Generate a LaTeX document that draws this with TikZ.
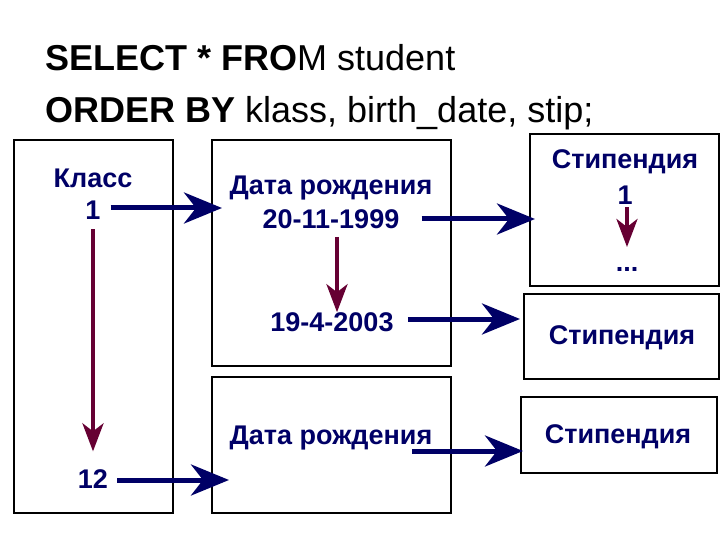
\documentclass[tikz,border=0pt]{standalone}
\usepackage{fontspec}
\setmainfont{Liberation Sans}
\usetikzlibrary{arrows.meta}
\definecolor{navy}{RGB}{0,0,102}
\definecolor{wine}{RGB}{102,0,51}
\begin{document}
\begin{tikzpicture}[x=1pt,y=-1pt,
  box/.style={draw=black,line width=2pt,inner sep=0pt},
  lbl/.style={font=\fontsize{27}{30}\selectfont\bfseries,text=navy,inner sep=0pt},
  title/.style={font=\fontsize{36}{40}\selectfont,anchor=base west,inner sep=0pt},
  barrow/.style={draw=navy,line width=5pt,-{Stealth[length=38pt 0,width=31pt 0,inset=12pt 0]}},
  rarrow/.style={draw=wine,line width=4pt,-{Stealth[length=28pt 0,width=21pt 0,inset=8pt 0]}}]
\useasboundingbox (0,0) rectangle (720,540);
% title
\node[title] (q1) at (45,71) {\textbf{SELECT * FRO}M student};
\node[title] (q2) at (45,123) {\textbf{ORDER BY} klass, birth\_date, stip;};
% boxes
\node[box,minimum width=159pt,minimum height=373pt] (kb) at (93.5,326.5) {};
\node[box,minimum width=239pt,minimum height=226pt] (db1) at (331.5,253) {};
\node[box,minimum width=239pt,minimum height=136pt] (db2) at (331.5,445) {};
\node[box,minimum width=189pt,minimum height=152pt] (sb1) at (624.5,210) {};
\node[box,minimum width=195pt,minimum height=85pt] (sb2) at (621.5,336.5) {};
\node[box,minimum width=196pt,minimum height=76pt] (sb3) at (619,435) {};
% texts
\node[lbl] (kt) at (93,178) {Класс};
\node[lbl] (k1) at (93,210) {1};
\node[lbl] (k12) at (93,479) {12};
\node[lbl] (dt1) at (331,188) {Дата рождения};
\node[lbl] (d20) at (331,219) {20-11-1999};
\node[lbl] (d19) at (332,322) {19-4-2003};
\node[lbl] (dt2) at (331,438) {Дата рождения};
\node[lbl] (st1) at (625,162) {Стипендия};
\node[lbl] (s1) at (625,195) {1};
\node[lbl] (sd) at (627,269) {...};
\node[lbl] (st2) at (622,338) {Стипендия};
\node[lbl] (st3) at (618,437) {Стипендия};
% arrows
\coordinate (a5s) at (412,451);
\draw[barrow] (k1.east) ++(10,-2) -- ([xshift=11pt]db1.west |- 0,208);
\draw[barrow] (k12.east) ++(9,1) -- ([xshift=18pt]db2.west |- 0,480);
\draw[barrow] (d20.east) ++(22,0) -- ([xshift=6pt]sb1.west |- d20);
\draw[barrow] (d19.east) ++(14,-3) -- ([xshift=-3pt]sb2.west |- 0,319);
\draw[barrow] (a5s) -- ([xshift=3pt]sb3.west |- a5s);
\draw[rarrow] (k1.south) ++(0,10) -- ([yshift=18pt]k12.north);
\draw[rarrow] (d20.south) ++(6,8) -- (d19.north -| 337,0);
\draw[rarrow] (s1.south) ++(2,3) -- (627,247);
\end{tikzpicture}
\end{document}
